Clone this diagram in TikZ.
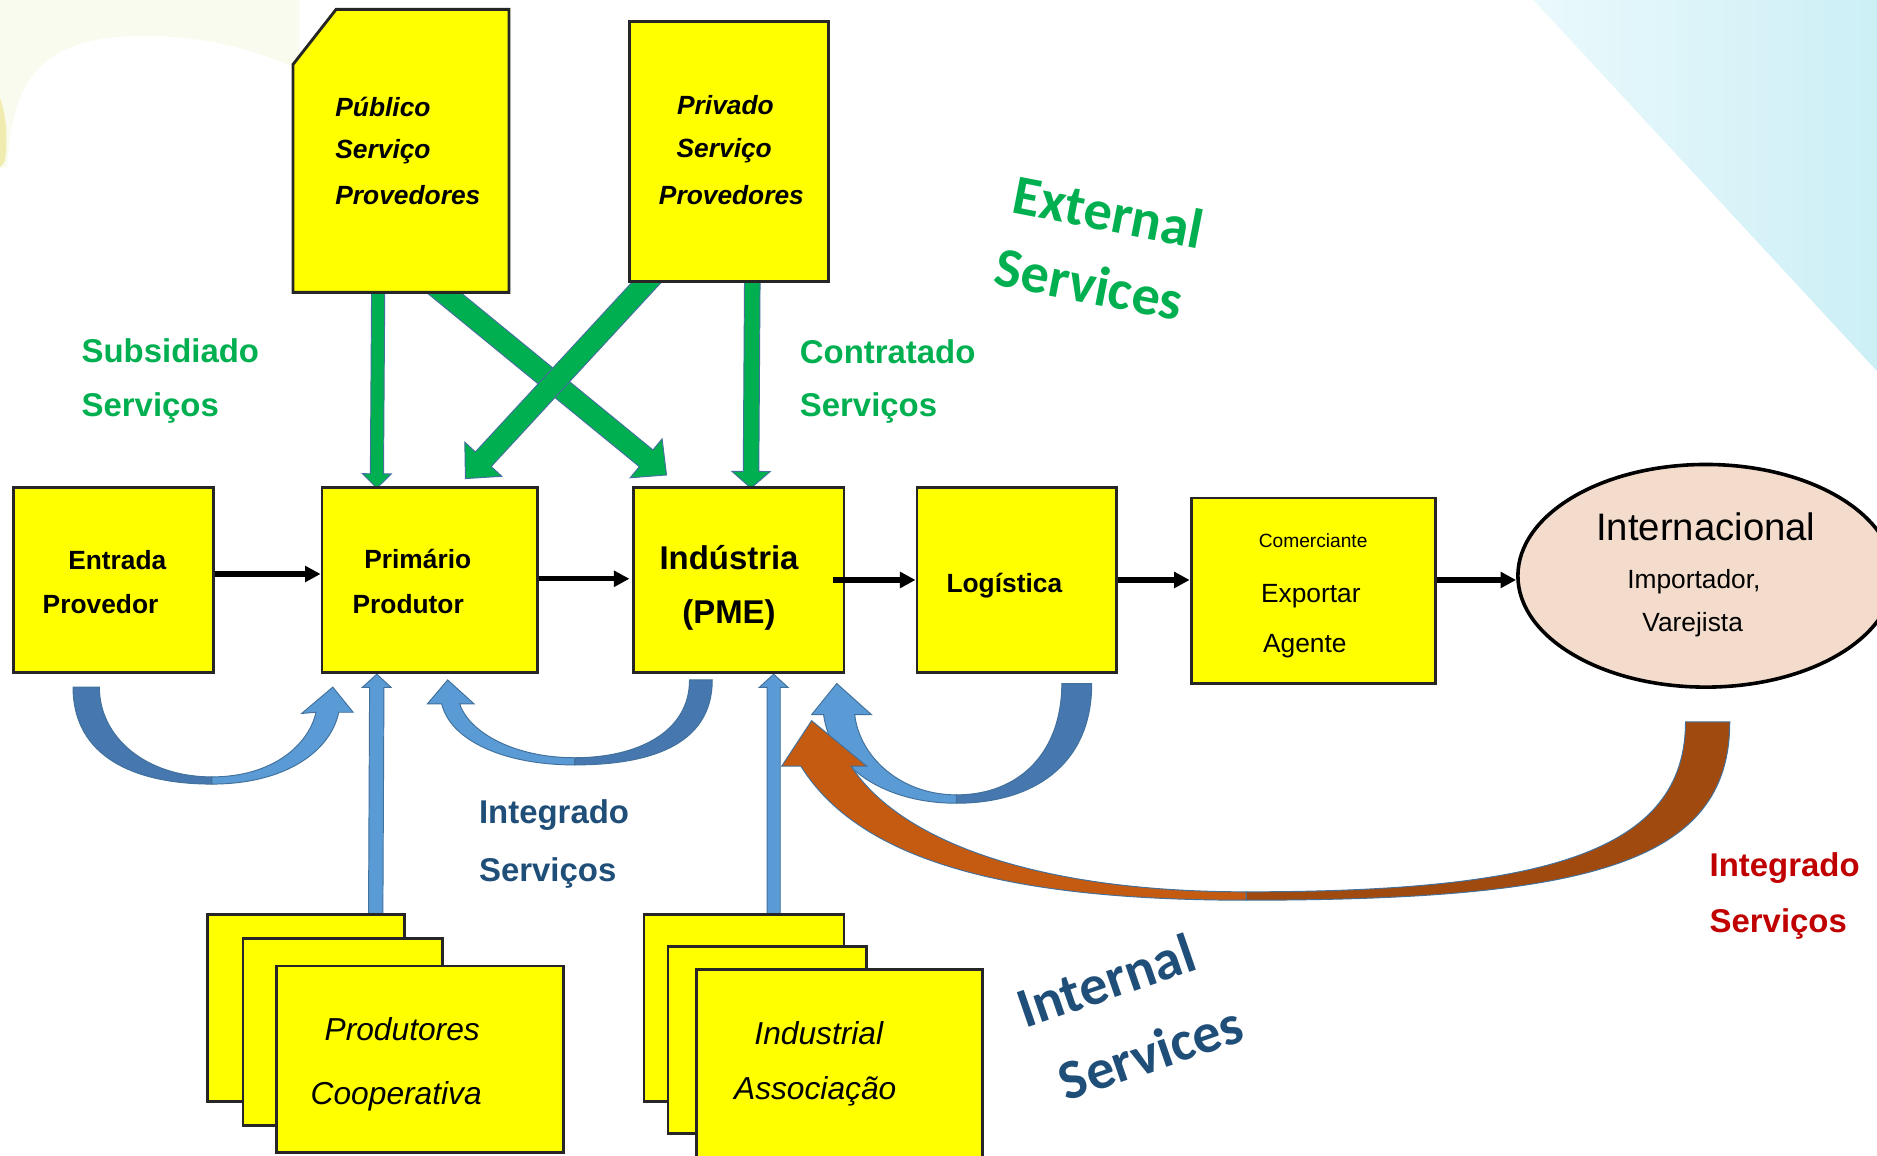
\documentclass[tikz,border=0pt]{standalone}
\usepackage{fontspec}
\setmainfont{Liberation Sans}
\newfontfamily\carl{Carlito}
\usetikzlibrary{calc,arrows.meta,shapes.geometric}
\definecolor{boxy}{HTML}{FFFF00}
\definecolor{tgreen}{HTML}{00B050}
\definecolor{agreen}{HTML}{00B050}
\definecolor{tblue}{HTML}{1F4E79}
\definecolor{tred}{HTML}{C00000}
\definecolor{outl}{HTML}{41719C}
\definecolor{bluelight}{HTML}{5B9BD5}
\definecolor{bluedark}{HTML}{4677AE}
\definecolor{orlight}{HTML}{C55A11}
\definecolor{ordark}{HTML}{A04A0F}
\definecolor{peach}{HTML}{F3DCCB}
\definecolor{cyanL}{HTML}{EAF9FC}
\definecolor{cyanR}{HTML}{CCEFF6}
\definecolor{paleyel}{HTML}{FAFBEF}
\definecolor{yelsl}{HTML}{F0ECB0}
\newcommand{\fsz}[1]{\fontsize{#1pt}{#1pt}\selectfont}
\newcommand{\blockarrow}[6]{%
  \coordinate (bac) at ($(#3)!#6!(#2)$);
  \filldraw[#1] ($(#2)!#4!90:(#3)$) -- ($(bac)!#4!90:(#3)$) -- ($(bac)!#5!90:(#3)$) -- (#3)
     -- ($(bac)!#5!-90:(#3)$) -- ($(bac)!#4!-90:(#3)$) -- ($(#2)!#4!-90:(#3)$) -- cycle;}
\pgfdeclarelayer{bg}
\pgfsetlayers{bg,main}
\begin{document}
\begin{tikzpicture}[x=1pt,y=-1pt,
  ybox/.style={draw=black!85, line width=2.4pt, fill=boxy, inner sep=0pt},
  bt/.style={font=\bfseries\fsz{22}, inner sep=0pt},
  bit/.style={font=\bfseries\itshape\fsz{22}, inner sep=0pt},
  itx/.style={font=\itshape\fsz{26.5}, inner sep=0pt},
  rt/.style={font=\fsz{22}, inner sep=0pt},
  glab/.style={font=\bfseries\fsz{27.5}, text=tgreen, inner sep=0pt, anchor=west},
  blab/.style={font=\bfseries\fsz{27.5}, text=tblue, inner sep=0pt, anchor=west},
  rlab/.style={font=\bfseries\fsz{27.5}, text=tred, inner sep=0pt, anchor=west},
  wart/.style={font=\carl\bfseries\fsz{47}, inner sep=0pt},
  garrow/.style={fill=agreen, draw=outl, line width=0.8pt, line join=miter},
  barrow/.style={fill=bluelight, draw=outl, line width=0.8pt, line join=miter},
  karrow/.style={draw=black, line width=4.5pt, -{Triangle[length=13pt,width=13pt]}},
  cdark/.style={fill=bluedark, draw=outl, line width=0.8pt},
  clight/.style={fill=bluelight, draw=outl, line width=0.8pt},
  odark/.style={fill=ordark, draw=outl, line width=0.8pt},
  olight/.style={fill=orlight, draw=outl, line width=0.8pt}]
\useasboundingbox (0,0) rectangle (1568,965);

% ---------- boxes ----------
\node[minimum width=180pt, minimum height=236pt, inner sep=0pt] (publico) at (335,126) {};
\filldraw[draw=black!85, line width=2.4pt, fill=boxy] (publico.south west) -- ($(publico.north west)+(0,46)$)
  -- ($(publico.north west)+(36,0)$) -- (publico.north east) -- (publico.south east) -- cycle;
\node[ybox, minimum width=166pt, minimum height=217pt] (privado) at (609,126.5) {};

\node[ybox, minimum width=167pt, minimum height=155pt] (entrada) at (94.5,484.5) {};
\node[ybox, minimum width=180pt, minimum height=155pt] (primario) at (359,484.5) {};
\node[ybox, minimum width=176pt, minimum height=155pt] (industria) at (617,484.5) {};
\node[ybox, minimum width=167pt, minimum height=155pt] (logistica) at (849.5,484.5) {};
\node[ybox, minimum width=204pt, minimum height=155pt] (comerciante) at (1097,493.5) {};
\node[ellipse, draw=black, line width=3pt, fill=peach, minimum width=314pt, minimum height=186pt, inner sep=0pt] (intl) at (1425,481) {};

\node[ybox, minimum width=165pt, minimum height=156pt] (coop1) at (255.5,842) {};
\node[ybox, minimum width=167pt, minimum height=156pt] (coop2) at (286.5,862) {};
\node[ybox, minimum width=240pt, minimum height=156pt] (coop3) at (351,885) {};
\node[ybox, minimum width=167pt, minimum height=156pt] (assoc1) at (621.5,842) {};
\node[ybox, minimum width=166pt, minimum height=156pt] (assoc2) at (641,869) {};
\node[ybox, minimum width=239pt, minimum height=165pt] (assoc3) at (701.5,892.5) {};

% ---------- background and straight block arrows (behind boxes) ----------
\begin{pgfonlayer}{bg}
  \fill[white] (0,0) rectangle (1568,965);
  \shade[left color=cyanL, right color=cyanR] (1281,0) -- (1568,0) -- (1568,310) -- cycle;
  \fill[paleyel] (0,0) -- (250,0) -- (250,58) .. controls (220,45) and (180,30) .. (120,30)
     .. controls (30,30) and (10,70) .. (6,140) -- (0,140) -- cycle;
  \fill[yelsl] (0,82) .. controls (5,95) and (7,115) .. (4,135) -- (0,140) -- cycle;

  % green: Publico -> Industria (diagonal)
  \coordinate (g3a) at ($(publico.south)+(19.5,-13)$);
  \coordinate (g3b) at ($(industria.north west)+(29,-9)$);
  \blockarrow{garrow}{g3a}{g3b}{9pt}{21pt}{22pt}
  % green: Privado -> Primario (diagonal)
  \coordinate (g4a) at ($(privado.south)+(-59,-11)$);
  \coordinate (g4b) at ($(primario.north west)+(121,-6)$);
  \blockarrow{garrow}{g4a}{g4b}{9pt}{21pt}{22pt}
  % green verticals
  \coordinate (g1a) at ($(publico.south)+(-19,-14)$);
  \coordinate (g1b) at ($(primario.north west)+(47,2)$);
  \blockarrow{garrow}{g1a}{g1b}{5.5pt}{12pt}{12pt}
  \coordinate (g2a) at ($(privado.south)+(19.5,-10)$);
  \coordinate (g2b) at ($(industria.north west)+(99.5,2)$);
  \blockarrow{garrow}{g2a}{g2b}{6.5pt}{16pt}{14pt}
  % blue verticals
  \coordinate (b1a) at ($(coop1.north west)+(142,11)$);
  \coordinate (b1b) at ($(primario.south west)+(47,0)$);
  \blockarrow{barrow}{b1a}{b1b}{6pt}{12pt}{11pt}
  \coordinate (b2a) at ($(assoc1.north west)+(109.5,11)$);
  \coordinate (b2b) at ($(industria.south west)+(118.5,0)$);
  \blockarrow{barrow}{b2a}{b2b}{5.5pt}{12pt}{11pt}
\end{pgfonlayer}

% ---------- texts ----------
\node[bit, anchor=west] (pub1) at (280,89) {Público};
\node[bit, anchor=west] (pub2) at (280,127) {Serviço};
\node[bit, anchor=west] (pub3) at (280,163) {Provedores};
\node[bit] (pri1) at (606,88) {Privado};
\node[bit] (pri2) at (605,126) {Serviço};
\node[bit] (pri3) at (611,163) {Provedores};

\node[glab] (sub1) at (68,293) {Subsidiado};
\node[glab] (sub2) at (68,341) {Serviços};
\node[glab] (con1) at (668,294) {Contratado};
\node[glab] (con2) at (668,341) {Serviços};

\node[bt] (ent1) at (98,468) {Entrada};
\node[bt] (ent2) at (84,505) {Provedor};
\node[bt] (prm1) at (349,467) {Primário};
\node[bt] (prm2) at (341,505) {Produtor};
\node[font=\bfseries\fsz{27.5}, inner sep=0pt] (ind1) at (609,466) {Indústria};
\node[font=\bfseries\fsz{27.5}, inner sep=0pt] (ind2) at (609,514) {(PME)};
\node[bt] (log1) at (839,489) {Logística};
\node[font=\fsz{16}, inner sep=0pt] (com1) at (1097,452) {Comerciante};
\node[rt] (com2) at (1095,498) {Exportar};
\node[rt] (com3) at (1090,540) {Agente};
\node[font=\fsz{32}, inner sep=0pt] (int1) at (1425,440) {Internacional};
\node[rt] (int2) at (1415,486) {Importador,};
\node[rt] (int3) at (1414,522) {Varejista};

\node[blab] (ig1) at (400,681) {Integrado};
\node[blab] (ig2) at (400,729) {Serviços};
\node[rlab] (rg1) at (1428,725) {Integrado};
\node[rlab] (rg2) at (1428,772) {Serviços};

\node[itx] (pc1) at (336,860) {Produtores};
\node[itx] (pc2) at (331,916) {Cooperativa};
\node[itx] (ia1) at (684,863) {Industrial};
\node[itx] (ia2) at (681,912) {Associação};

\node[wart, text=tgreen, rotate=-11] (ext1) at (926,177) {External};
\node[wart, text=tgreen, rotate=-11] (ext2) at (910,237) {Services};
\node[wart, text=tblue, rotate=19] (inn1) at (924,819) {Internal};
\node[wart, text=tblue, rotate=19] (inn2) at (961,879) {Services};

% ---------- black flow arrows ----------
\draw[karrow] ($(entrada.east)+(0,-5)$) -- ($(primario.west)+(0,-5)$);
\draw[karrow] ($(primario.east)+(0,-1)$) -- ($(industria.west)+(-2,-1)$);
\draw[karrow] ($(industria.east)+(-10,0)$) -- (logistica.west);
\draw[karrow] (logistica.east) -- (logistica.east -| comerciante.west);
\draw[karrow] (comerciante.east |- logistica.east) -- (intl.west |- logistica.east);

% ---------- curved integration arrows ----------
% Entrada -> Primario
\filldraw[cdark] (61,574) .. controls (61,632) and (112,655) .. (177,655) -- (177,649)
   .. controls (122,649) and (83,616) .. (83,574) -- cycle;
\filldraw[clight] (177,655) .. controls (238,655) and (276,628) .. (283,595) -- (295,595) -- (278,574)
   -- (252,596) -- (264,595) .. controls (258,622) and (228,649) .. (177,649) -- cycle;
% Industria -> Primario
\filldraw[cdark] (595,568) .. controls (595,624) and (540,639) .. (480,639) -- (480,633)
   .. controls (532,633) and (576,612) .. (576,568) -- cycle;
\filldraw[clight] (480,639) .. controls (420,639) and (376,618) .. (369,588) -- (357,588) -- (374,568)
   -- (396,588) -- (384,588) .. controls (392,612) and (430,633) .. (480,633) -- cycle;
% Logistica -> Industria
\filldraw[cdark] (912,571) .. controls (912,640) and (862,671) .. (799,671) -- (799,664)
   .. controls (852,664) and (887,628) .. (887,571) -- cycle;
\filldraw[clight] (799,671) .. controls (740,671) and (694,642) .. (688,597) -- (678,597) -- (699,571)
   -- (728,597) -- (714,597) .. controls (718,632) and (752,664) .. (799,664) -- cycle;
% Internacional -> Industria (orange)
\filldraw[odark] (1445,603) .. controls (1445,720) and (1330,752) .. (1041,752) -- (1041,745)
   .. controls (1290,745) and (1408,712) .. (1408,603) -- cycle;
\filldraw[olight] (1041,752) .. controls (850,752) and (720,722) .. (669,640) -- (653,640) -- (678,602)
   -- (724,640) -- (711,640) .. controls (750,700) and (860,745) .. (1041,745) -- cycle;
\end{tikzpicture}
\end{document}
